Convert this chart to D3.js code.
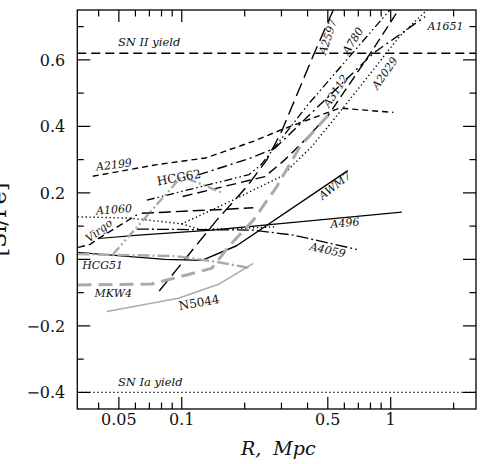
<!DOCTYPE html>
<html>
<head>
<meta charset="utf-8">
<script src="https://cdn.jsdelivr.net/npm/d3@7"></script>
<style>
  html, body { margin: 0; padding: 0; background: #fff; }
  svg { display: block; }
  text { font-family: "DejaVu Serif", "Liberation Serif", serif; fill: #111; }
</style>
</head>
<body>
<svg id="chart" width="485" height="464"></svg>
<script>
// ---- data: [R (Mpc), [Si/Fe]] ----
const snII = 0.62;
const snIa = -0.40;

const A2199 = [[0.0375,0.25],[0.076,0.285],[0.13,0.305],[0.22,0.355],[0.30,0.39],[0.57,0.455],[1.03,0.442]];
const A1651 = [[0.12,0.254],[0.212,0.304],[0.28,0.335],[0.826,0.62],[1.46,0.73]];
const A780  = [[0.068,0.178],[0.21,0.255],[0.24,0.285],[0.40,0.464],[0.99,0.75]];
const A3112 = [[0.101,0.189],[0.25,0.249],[0.312,0.30],[0.375,0.349],[0.503,0.434],[0.80,0.62],[1.09,0.75]];
const A2597 = [[0.078,-0.095],[0.106,0.008],[0.147,0.118],[0.205,0.219],[0.255,0.299],[0.30,0.384],[0.426,0.613],[0.531,0.75]];
const A2029 = [[0.0317,0.128],[0.0566,0.124],[0.10,0.107],[0.177,0.179],[0.30,0.25],[0.42,0.34],[0.60,0.46],[1.10,0.67],[1.49,0.75]];
const dottedFlat = [[0.10,0.107],[0.122,0.09],[0.20,0.094],[0.285,0.098]];
const A1060 = [[0.0644,0.139],[0.083,0.142],[0.22,0.155]];
const Virgo = [[0.0319,0.036],[0.0364,0.045],[0.04,0.063],[0.061,0.134]];
const A496  = [[0.04,0.063],[0.062,0.073],[0.139,0.088],[1.13,0.142]];
const A4059 = [[0.061,0.091],[0.22,0.088],[0.342,0.073],[0.688,0.03]];
const HCG51 = [[0.0317,0.021],[0.083,0.0],[0.125,-0.003]];
const AWM7  = [[0.125,-0.003],[0.183,0.041],[0.623,0.267]];
const HCG51gray = [[0.0317,0.016],[0.093,0.01],[0.145,-0.007],[0.216,-0.027]];
const HCG62 = [[0.047,0.016],[0.10,0.25],[0.158,0.199]];
const MKW4  = [[0.0317,-0.077],[0.0718,-0.074],[0.139,-0.027],[0.17,0.043],[0.22,0.118],[0.285,0.219],[0.368,0.339],[0.503,0.434]];
const N5044 = [[0.0438,-0.157],[0.0964,-0.117],[0.15,-0.075],[0.22,-0.012]];

const xMajorTicks = [0.05, 0.1, 0.5, 1];
const xMinorTicks = [0.04, 0.06, 0.07, 0.08, 0.09, 0.2, 0.3, 0.4, 0.6, 0.7, 0.8, 0.9, 2];
const xTickLabels = ["0.05", "0.1", "0.5", "1"];
const yMajorTicks = [-0.4, -0.2, 0, 0.2, 0.4, 0.6];
const yMinorTicks = [-0.3, -0.1, 0.1, 0.3, 0.5, 0.7];
const yTickLabels = ["\u22120.4", "\u22120.2", "0", "0.2", "0.4", "0.6"];

// label anchors [text, R, value, rotation, italic]
const labels = [
  ["A2199", 0.0474, 0.284, -7, true],
  ["HCG62", 0.097, 0.246, -10, false],
  ["A1060", 0.0474, 0.149, -4, true],
  ["Virgo", 0.0402, 0.086, -38, true],
  ["HCG51", 0.0418, -0.017, 0, true],
  ["MKW4", 0.047, -0.104, 0, true],
  ["N5044", 0.121, -0.13, -10, false],
  ["AWM7", 0.541, 0.221, -38, true],
  ["A496", 0.604, 0.109, -5, true],
  ["A4059", 0.499, 0.027, 12, true],
  ["A2597", 0.501, 0.669, -72, true],
  ["A780", 0.66, 0.657, -58, true],
  ["A3112", 0.547, 0.506, -57, true],
  ["A2029", 0.939, 0.56, -55, true],
  ["A1651", 1.83, 0.70, 0, true]
];

// ---- layout ----
const W = 485, H = 464;
const L = 77.3, R = 476, T = 10, B = 409;
const svg = d3.select("#chart");

const x = d3.scaleLog().domain([Math.pow(10, -1.5), 2.56]).range([L, R]);
const y = d3.scaleLinear().domain([-0.45, 0.75]).range([B, T]);

svg.append("defs").append("clipPath").attr("id", "clip")
  .append("rect").attr("x", L).attr("y", T).attr("width", R - L).attr("height", B - T);

const plot = svg.append("g").attr("clip-path", "url(#clip)");
const line = d3.line().x(d => x(d[0])).y(d => y(d[1]));

const series = [
  {d: A2199, c: "#000", w: 1.4, dash: "6,4"},
  {d: A1651, c: "#000", w: 1.4, dash: "10,4,2,4"},
  {d: A780, c: "#000", w: 1.3, dash: "8,3,1.5,3,1.5,3"},
  {d: A3112, c: "#000", w: 1.4, dash: "10,5"},
  {d: A2597, c: "#000", w: 1.4, dash: "14,6"},
  {d: A2029, c: "#000", w: 1.4, dash: "1.3,2.7"},
  {d: dottedFlat, c: "#000", w: 1.4, dash: "1.3,2.7"},
  {d: A1060, c: "#000", w: 1.5, dash: "12,5"},
  {d: Virgo, c: "#000", w: 1.4, dash: "7,4"},
  {d: A496, c: "#000", w: 1.1, dash: null},
  {d: A4059, c: "#000", w: 1.3, dash: "12,3,2,3"},
  {d: HCG51, c: "#000", w: 1.4, dash: null},
  {d: AWM7, c: "#000", w: 1.4, dash: null},
  {d: HCG51gray, c: "#aaa", w: 2.4, dash: "12,3,2,3"},
  {d: HCG62, c: "#aaa", w: 2.4, dash: "9,3,2,3,2,3"},
  {d: MKW4, c: "#aaa", w: 3, dash: "14,7"},
  {d: N5044, c: "#aaa", w: 1.5, dash: null}
];

// reference yield lines
plot.append("line").attr("x1", L).attr("x2", R).attr("y1", y(snII)).attr("y2", y(snII))
  .attr("stroke", "#000").attr("stroke-width", 1.4).attr("stroke-dasharray", "9,5");
plot.append("line").attr("x1", L).attr("x2", R).attr("y1", y(snIa)).attr("y2", y(snIa))
  .attr("stroke", "#000").attr("stroke-width", 1.2).attr("stroke-dasharray", "1.3,2.7");

series.forEach(s => {
  plot.append("path").datum(s.d).attr("d", line)
    .attr("fill", "none").attr("stroke", s.c).attr("stroke-width", s.w)
    .attr("stroke-dasharray", s.dash).attr("stroke-linejoin", "round");
});

// frame
svg.append("rect").attr("x", L).attr("y", T).attr("width", R - L).attr("height", B - T)
  .attr("fill", "none").attr("stroke", "#000").attr("stroke-width", 1.3);

// ticks (inside)
const tk = svg.append("g").attr("stroke", "#000").attr("stroke-width", 1.2);
const majL = 12, minL = 6.5;
xMajorTicks.forEach(v => {
  tk.append("line").attr("x1", x(v)).attr("x2", x(v)).attr("y1", B).attr("y2", B - majL);
  tk.append("line").attr("x1", x(v)).attr("x2", x(v)).attr("y1", T).attr("y2", T + majL);
});
xMinorTicks.forEach(v => {
  tk.append("line").attr("x1", x(v)).attr("x2", x(v)).attr("y1", B).attr("y2", B - minL);
  tk.append("line").attr("x1", x(v)).attr("x2", x(v)).attr("y1", T).attr("y2", T + minL);
});
yMajorTicks.forEach(v => {
  tk.append("line").attr("x1", L).attr("x2", L + majL + 1).attr("y1", y(v)).attr("y2", y(v));
  tk.append("line").attr("x1", R).attr("x2", R - majL - 1).attr("y1", y(v)).attr("y2", y(v));
});
yMinorTicks.forEach(v => {
  tk.append("line").attr("x1", L).attr("x2", L + minL).attr("y1", y(v)).attr("y2", y(v));
  tk.append("line").attr("x1", R).attr("x2", R - minL).attr("y1", y(v)).attr("y2", y(v));
});

// tick labels
xMajorTicks.forEach((v, i) => {
  svg.append("text").attr("x", x(v)).attr("y", B + 15.5)
    .attr("text-anchor", "middle").style("font-size", "16px").text(xTickLabels[i]);
});
yMajorTicks.forEach((v, i) => {
  svg.append("text").attr("x", L - 12).attr("y", y(v) + 5.8)
    .attr("text-anchor", "end").style("font-size", "16px").text(yTickLabels[i]);
});

// axis titles
svg.append("text").attr("x", (x(0.1) + x(1)) / 2 - 8).attr("y", 455)
  .attr("text-anchor", "middle").style("font-size", "19px").style("font-style", "italic")
  .style("white-space", "pre").text("R,  Mpc");
svg.append("text").attr("transform", `translate(6,${(T + B) / 2 + 10}) rotate(-90)`)
  .attr("text-anchor", "middle").style("font-size", "22px").text("[Si/Fe]");

// yield labels
svg.append("text").attr("x", x(0.0495)).attr("y", y(0.642))
  .style("font-size", "11.5px").style("font-style", "italic").text("SN II yield");
svg.append("text").attr("x", x(0.0495)).attr("y", y(-0.381))
  .style("font-size", "11.5px").style("font-style", "italic").text("SN Ia yield");

// series labels
labels.forEach(([t, r, v, rot, it]) => {
  svg.append("text")
    .attr("transform", `translate(${x(r)},${y(v)}) rotate(${rot})`)
    .attr("text-anchor", "middle").attr("dominant-baseline", "central")
    .style("font-size", t.startsWith("HCG62") || t === "N5044" ? "12px" : "11px")
    .style("font-style", it ? "italic" : "normal")
    .text(t);
});
</script>
</body>
</html>
